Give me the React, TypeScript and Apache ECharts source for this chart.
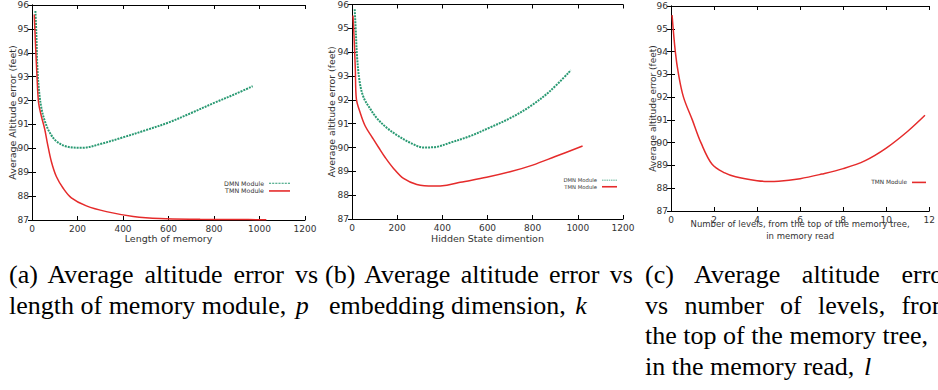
import React, { useEffect, useRef } from "react";
import * as echarts from "echarts";

// ---- Data ----
// (a) error vs length of memory
const memLenDMN_x = [15, 19, 23.5, 31, 41, 56, 78, 107, 151, 220, 300, 400, 500, 600, 700, 800, 900, 970];
const memLenDMN_y = [95.75, 94.8, 93.4, 92.4, 91.7, 91.15, 90.66, 90.3, 90.08, 90.02, 90.18, 90.46, 90.76, 91.08, 91.48, 91.9, 92.3, 92.6];
const memLenTMN_x = [10, 14.7, 22, 29, 41, 56, 68, 85, 107, 137, 173, 239, 327, 445, 562, 739, 900, 1030];
const memLenTMN_y = [95.6, 94.5, 93.0, 91.9, 91.35, 90.8, 90.2, 89.45, 88.82, 88.33, 87.93, 87.59, 87.35, 87.15, 87.06, 87.03, 87.02, 87.01];
// (b) error vs hidden state dimension
const hidDMN_x = [12, 17.7, 22, 34, 51.5, 81, 110, 155, 199, 258, 317, 376, 434, 523, 611, 700, 788, 876, 969];
const hidDMN_y = [95.8, 94.7, 93.86, 92.75, 92.1, 91.62, 91.23, 90.82, 90.52, 90.2, 90.0, 90.03, 90.2, 90.48, 90.84, 91.23, 91.72, 92.36, 93.24];
const hidTMN_x = [4.4, 8.8, 14.7, 19, 37, 59, 88, 118, 147, 184, 228, 287, 361, 420, 479, 596, 700, 800, 900, 1021];
const hidTMN_y = [95.54, 94.7, 93.3, 92.06, 91.44, 90.89, 90.45, 90.0, 89.58, 89.12, 88.7, 88.45, 88.38, 88.42, 88.54, 88.75, 88.98, 89.26, 89.62, 90.06];
// (c) error vs number of levels
const levTMN_x = [0.05, 0.2, 0.35, 0.58, 0.99, 1.39, 1.91, 2.5, 3, 4, 4.5, 5, 6, 7, 8, 9, 10, 11, 11.8];
const levTMN_y = [95.6, 94.0, 93.0, 92.0, 91.0, 90.0, 89.05, 88.67, 88.5, 88.33, 88.3, 88.31, 88.42, 88.62, 88.86, 89.2, 89.76, 90.5, 91.2];

const yMin = 87, yMax = 96, yStep = 1;
const xMaxAB = 1200, xStepAB = 200;
const xMaxC = 12, xStepC = 2;

const seriesNames = ["DMN Module", "TMN Module"];
const xNames = ["Length of memory", "Hidden State dimention", "Number of levels, from the top of the memory tree,\nin memory read"];
const yNames = ["Average Altitude error (feet)", "Average altitude error (feet)", "Average altitude error (feet)"];

// captions: [text, justified?, math variable]
const captionA = [["(a) Average altitude error vs", true, ""], ["length of memory module,", false, "p"]];
const captionB = [["(b) Average altitude error vs", true, ""], ["embedding dimension,", false, "k"]];
const captionC = [
  ["(c) Average altitude error", true, ""],
  ["vs number of levels, from", true, ""],
  ["the top of the memory tree,", false, ""],
  ["in the memory read,", false, "l"],
];

const zip = (xs: number[], ys: number[]) => xs.map((x, i) => [x, ys[i]]);

const GREEN = "#2a9a73";
const RED = "#e52b2b";
const SANS = "DejaVu Sans";
const SERIF = "Liberation Serif";

const DASH_ICON =
  "path://M0,0h2v1h-2z M3,0h2v1h-2z M6,0h2v1h-2z M9,0h2v1h-2z M12,0h2v1h-2z M15,0h2v1h-2z M18,0h2v1h-2z";

const LINE_TOPS = [259.5, 290.5, 321, 351.5];

function Caption({ lines, left, width, secondIndent = 0 }: { lines: any[]; left: number; width: number; secondIndent?: number }) {
  return (
    <>
      {lines.map((ln, i) => (
        <div
          key={i}
          style={{
            position: "absolute",
            left: left + (i > 0 ? secondIndent : 0),
            top: LINE_TOPS[i],
            width: width - (i > 0 ? secondIndent : 0),
            fontFamily: `'${SERIF}', 'Times New Roman', serif`,
            fontSize: 26,
            lineHeight: "30px",
            color: "#000",
            textAlign: ln[1] ? "justify" : "left",
            textAlignLast: ln[1] ? "justify" : "left",
            whiteSpace: ln[1] ? "normal" : "nowrap",
          }}
        >
          {ln[0]}
          {ln[2] ? (
            <>
              {" "}
              <i style={{ marginLeft: 3 }}>{ln[2]}</i>
            </>
          ) : null}
        </div>
      ))}
    </>
  );
}

export default function App() {
  const ref = useRef<HTMLDivElement>(null);
  useEffect(() => {
    if (!ref.current) return;
    const chart = echarts.init(ref.current, undefined, { renderer: "svg" });

    const grids = [
      { left: 32, top: 5, width: 273, height: 215 },
      { left: 352, top: 3, width: 271, height: 216 },
      { left: 671, top: 6, width: 262, height: 205 },
    ];
    const lineStyle = { color: "#000", width: 1 };
    const tick = { show: true, inside: true, length: 4, lineStyle: { color: "#000", width: 1 } };
    const label = { fontSize: 9, color: "#333", fontFamily: SANS, margin: 4, formatter: (v: number) => String(v) };
    const nameText = (size: number) => ({ fontSize: size, color: "#333", fontFamily: SANS, lineHeight: 12 });

    const xAxis: any[] = [];
    const yAxis: any[] = [];
    const xCfg = [
      { max: xMaxAB, interval: xStepAB, gap: 12.5, size: 9.5 },
      { max: xMaxAB, interval: xStepAB, gap: 13, size: 9.5 },
      { max: xMaxC, interval: xStepC, gap: 6.5, size: 8.5 },
    ];
    const yCfg = [
      { gap: 14, size: 9.5 },
      { gap: 15, size: 9.3 },
      { gap: 12, size: 9 },
    ];
    for (let g = 0; g < 3; g++) {
      const xc = xCfg[g];
      const common = {
        type: "value",
        gridIndex: g,
        min: 0,
        max: xc.max,
        interval: xc.interval,
        axisLine: { show: true, lineStyle },
        axisTick: tick,
        splitLine: { show: false },
      };
      xAxis.push({
        ...common,
        position: "bottom",
        axisLabel: label,
        name: xNames[g],
        nameLocation: "middle",
        nameGap: xc.gap,
        nameMoveOverlap: false,
        nameTextStyle: nameText(xc.size),
      });
      xAxis.push({ ...common, position: "top", axisLabel: { show: false } });
      const yc = yCfg[g];
      const ycommon = {
        type: "value",
        gridIndex: g,
        min: yMin,
        max: yMax,
        interval: yStep,
        axisLine: { show: true, lineStyle },
        axisTick: tick,
        splitLine: { show: false },
      };
      yAxis.push({
        ...ycommon,
        position: "left",
        axisLabel: { ...label, margin: 3 },
        name: yNames[g],
        nameLocation: "middle",
        nameGap: yc.gap,
        nameMoveOverlap: false,
        nameTextStyle: nameText(yc.size),
      });
      yAxis.push({ ...ycommon, position: "right", axisLabel: { show: false } });
    }

    const dmn = (x: number[], y: number[], g: number) => ({
      name: seriesNames[0],
      type: "line",
      xAxisIndex: g * 2,
      yAxisIndex: g * 2,
      data: zip(x, y),
      symbol: "none",
      smooth: 0.35,
      lineStyle: { color: GREEN, width: 2, type: [2, 1] },
      itemStyle: { color: GREEN },
    });
    const tmn = (x: number[], y: number[], g: number) => ({
      name: seriesNames[1],
      type: "line",
      xAxisIndex: g * 2,
      yAxisIndex: g * 2,
      data: zip(x, y),
      symbol: "none",
      smooth: 0.35,
      lineStyle: { color: RED, width: 1.5 },
      itemStyle: { color: RED },
    });

    const legendItems = (names: string[]) =>
      names.map((n) => ({ name: n, icon: n === seriesNames[0] ? DASH_ICON : "rect" }));
    const legend = (data: string[], right: number, top: number, size: number, gap: number, w: number) => ({
      data: legendItems(data),
      orient: "vertical",
      align: "right",
      right,
      top,
      padding: 0,
      itemWidth: w,
      itemHeight: 1.6,
      itemGap: gap,
      selectedMode: false,
      textStyle: { fontSize: size, color: "#333", fontFamily: SANS, lineHeight: size + 1 },
    });

    chart.setOption({
      animation: false,
      grid: grids,
      xAxis,
      yAxis,
      legend: [
        legend(seriesNames, 648, 179.5, 6.3, 0.5, 21),
        legend(seriesNames, 321, 177, 5.3, 0.3, 15),
        legend([seriesNames[1]], 12, 179, 5.8, 1, 14),
      ],
      series: [
        dmn(memLenDMN_x, memLenDMN_y, 0),
        tmn(memLenTMN_x, memLenTMN_y, 0),
        dmn(hidDMN_x, hidDMN_y, 1),
        tmn(hidTMN_x, hidTMN_y, 1),
        tmn(levTMN_x, levTMN_y, 2),
      ],
    });
    return () => chart.dispose();
  }, []);
  return (
    <div
      style={{
        position: "absolute",
        left: 0,
        top: 0,
        width: 938,
        height: 390,
        background: "#fff",
        overflow: "hidden",
      }}
    >
      <div ref={ref} style={{ position: "absolute", left: 0, top: 0, width: 938, height: 250 }} />
      <Caption lines={captionA} left={9} width={309} />
      <Caption lines={captionB} left={325} width={308} secondIndent={4} />
      <Caption lines={captionC} left={645} width={307} />
    </div>
  );
}
